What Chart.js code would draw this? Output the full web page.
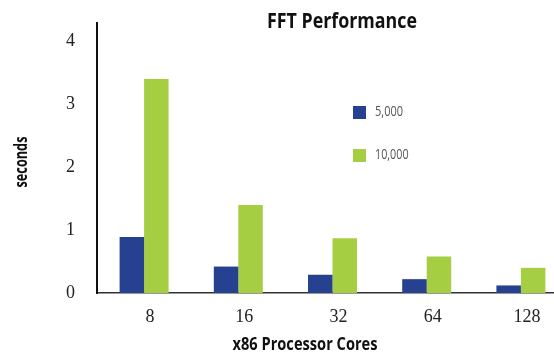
<!DOCTYPE html>
<html>
<head>
<meta charset="utf-8">
<title>FFT Performance</title>
<script src="https://cdn.jsdelivr.net/npm/chart.js@4/dist/chart.umd.min.js"></script>
<style>
  html, body { margin: 0; padding: 0; background: #fff; overflow: hidden; width: 554px; height: 354px; }
  #wrap { position: relative; width: 568px; height: 354px; }
  canvas { display: block; }
</style>
</head>
<body>
<div id="wrap"><canvas id="fft" width="568" height="354"></canvas></div>
<script>
// Categories and measured run times (seconds)
const cores = ['8', '16', '32', '64', '128'];
const seriesNames = ['5,000', '10,000'];
const seconds5000 = [0.89, 0.42, 0.29, 0.22, 0.12];
const seconds10000 = [3.40, 1.40, 0.87, 0.58, 0.40];
const yTickValues = [0, 1, 2, 3, 4];

const chartTitle = 'FFT Performance';
const xTitle = 'x86 Processor Cores';
const yTitle = 'seconds';

const BLUE = '#26418f';
const GREEN = '#a6ce42';
const SANS = '"Open Sans", "DejaVu Sans", sans-serif';
const SERIF = '"Liberation Serif", "DejaVu Serif", serif';

// Draws text squeezed horizontally to a given width (condensed look)
function condensedText(ctx, text, x, y, font, width) {
  ctx.save();
  ctx.font = font;
  const w = ctx.measureText(text).width;
  const k = Math.min(1, width / w);
  ctx.translate(x, y);
  ctx.scale(k, 1);
  ctx.fillText(text, 0, 0);
  ctx.restore();
}

// Title, in-plot legend and axis titles drawn on top of the chart
const overlay = {
  id: 'overlay',
  afterDraw(chart) {
    const ctx = chart.ctx;
    ctx.save();
    ctx.textBaseline = 'middle';
    ctx.fillStyle = '#111';
    ctx.textAlign = 'center';

    condensedText(ctx, chartTitle, 342, 22, 'bold 22px ' + SANS, 150);
    condensedText(ctx, xTitle, 305, 345, 'bold 17px ' + SANS, 145);

    ctx.save();
    ctx.translate(22, 162);
    ctx.rotate(-Math.PI / 2);
    condensedText(ctx, yTitle, 0, 0, 'bold 17px ' + SANS, 51);
    ctx.restore();

    ctx.textAlign = 'left';
    chart.data.datasets.forEach((ds, i) => {
      const y = 106 + i * 43;
      ctx.fillStyle = ds.backgroundColor;
      ctx.fillRect(353, y, 13, 13);
      ctx.fillStyle = '#555';
      condensedText(ctx, ds.label, 375, y + 6, '14px ' + SANS, ds.label.length * 5.6);
    });
    ctx.restore();
  }
};

new Chart(document.getElementById('fft'), {
  type: 'bar',
  data: {
    labels: cores,
    datasets: [
      { label: seriesNames[0], data: seconds5000, backgroundColor: BLUE },
      { label: seriesNames[1], data: seconds10000, backgroundColor: GREEN }
    ]
  },
  options: {
    responsive: false,
    animation: false,
    devicePixelRatio: 1,
    layout: { padding: { top: 23, left: 0, right: 0, bottom: 0 } },
    datasets: {
      bar: { categoryPercentage: 0.52, barPercentage: 1, borderWidth: 0 }
    },
    plugins: {
      legend: { display: false },
      title: { display: false },
      tooltip: { enabled: false }
    },
    scales: {
      x: {
        grid: { display: false, drawTicks: false },
        border: { display: true, color: '#333', width: 1.5 },
        ticks: {
          color: '#222',
          font: { family: SERIF, size: 18 },
          padding: 13,
          labelOffset: 6,
          maxRotation: 0
        },
        afterFit(scale) { scale.height = 61; scale.paddingLeft = 0; scale.paddingRight = 0; }
      },
      y: {
        min: 0,
        max: 4.29,
        grid: { display: false, drawTicks: false },
        border: { display: true, color: '#111', width: 2 },
        ticks: {
          color: '#222',
          font: { family: SERIF, size: 18 },
          padding: 22
        },
        afterBuildTicks(scale) {
          scale.ticks = yTickValues.map(v => ({ value: v }));
        },
        afterFit(scale) { scale.width = 97; scale.paddingTop = 0; scale.paddingBottom = 0; }
      }
    }
  },
  plugins: [overlay]
});
</script>
</body>
</html>
